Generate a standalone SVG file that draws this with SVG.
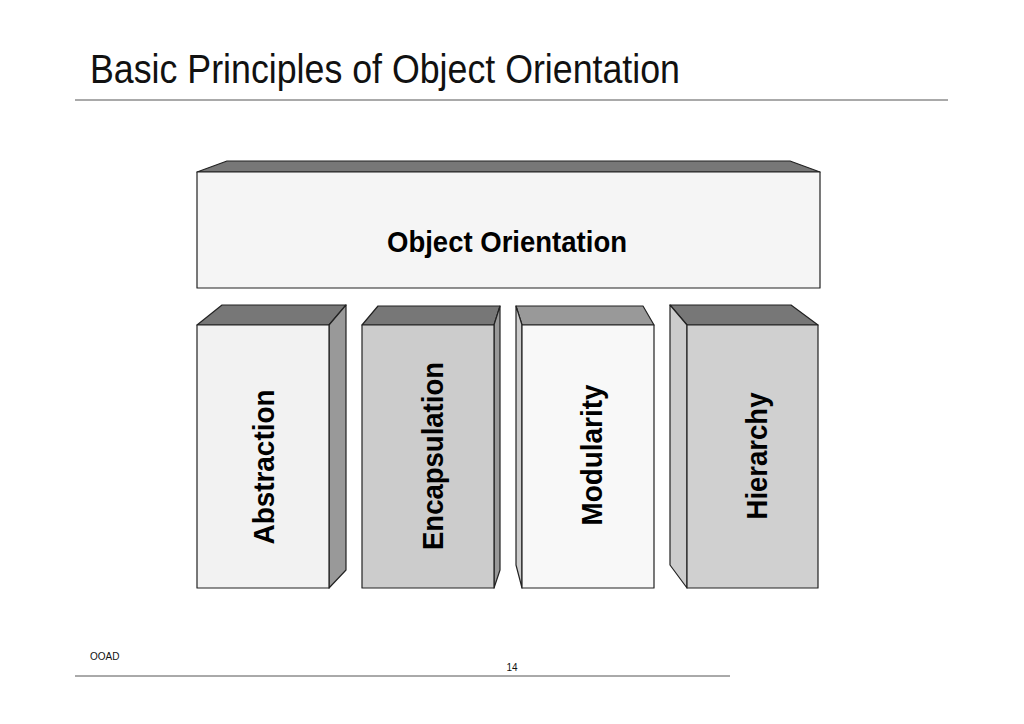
<svg xmlns="http://www.w3.org/2000/svg" width="1024" height="724" viewBox="0 0 1024 724">
<style>
.e{stroke:#222;stroke-width:1.2;stroke-linejoin:round}
.t{font-family:"Liberation Sans",Arial,sans-serif;font-weight:bold;font-size:30px;fill:#000;text-anchor:middle}
</style>
<rect width="1024" height="724" fill="#fff"/>
<text x="90" y="83" font-family="Liberation Sans,Arial,sans-serif" font-size="40" textLength="590" lengthAdjust="spacingAndGlyphs" fill="#111">Basic Principles of Object Orientation</text>
<line x1="75" y1="100" x2="948" y2="100" stroke="#555" stroke-width="1"/>
<g id="object-orientation">
<polygon class="e" points="197,172 227,161 790,161 820,172" fill="#777"/>
<rect class="e" x="197" y="172" width="623" height="116" fill="#f5f5f5" stroke="#555"/>
<text class="t" x="507" y="252" font-size="28" textLength="240" lengthAdjust="spacingAndGlyphs">Object Orientation</text>
</g>
<g id="abstraction">
<polygon class="e" points="197,325 222,305 346,305 329,325" fill="#777"/>
<polygon class="e" points="329,325 346,305 346,570 329,588" fill="#999"/>
<rect class="e" x="197" y="325" width="132" height="263" fill="#f2f2f2"/>
<text class="t" transform="translate(274,467) rotate(-90)" textLength="155" lengthAdjust="spacingAndGlyphs">Abstraction</text>
</g>
<g id="encapsulation">
<polygon class="e" points="362,325 378,306 500,306 494,325" fill="#777"/>
<polygon class="e" points="494,325 500,306 500,570 494,588" fill="#999"/>
<rect class="e" x="362" y="325" width="132" height="263" fill="#cccccc"/>
<text class="t" transform="translate(443,456) rotate(-90)" textLength="188" lengthAdjust="spacingAndGlyphs">Encapsulation</text>
</g>
<g id="modularity">
<polygon class="e" points="516,306 643,306 654,325 522,325" fill="#999"/>
<polygon class="e" points="516,306 522,325 522,588 516,565" fill="#ccc"/>
<rect class="e" x="522" y="325" width="132" height="263" fill="#f8f8f8"/>
<text class="t" transform="translate(602,455) rotate(-90)" textLength="141" lengthAdjust="spacingAndGlyphs">Modularity</text>
</g>
<g id="hierarchy">
<polygon class="e" points="670,305 791,305 818,325 687,325" fill="#777"/>
<polygon class="e" points="670,305 687,325 687,588 670,565" fill="#ccc"/>
<rect class="e" x="687" y="325" width="131" height="263" fill="#d0d0d0"/>
<text class="t" transform="translate(767,456) rotate(-90)" textLength="127" lengthAdjust="spacingAndGlyphs">Hierarchy</text>
</g>
<g id="connectors"></g>
<text x="90" y="660" font-family="Liberation Sans,Arial,sans-serif" font-size="10" fill="#111">OOAD</text>
<text x="512" y="671" font-family="Liberation Sans,Arial,sans-serif" font-size="10" text-anchor="middle" fill="#111">14</text>
<line x1="75" y1="676" x2="730" y2="676" stroke="#555" stroke-width="1"/>
</svg>
